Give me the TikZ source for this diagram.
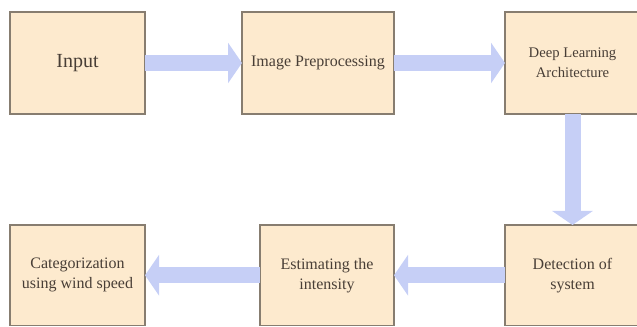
\documentclass[tikz,border=0pt]{standalone}
\usepackage{fontspec}
\setmainfont{Liberation Serif}
\usetikzlibrary{arrows.meta}

\definecolor{boxfill}{RGB}{253,234,206}
\definecolor{boxline}{RGB}{135,125,112}
\definecolor{txt}{RGB}{72,62,54}
\definecolor{flow}{RGB}{198,207,246}

\begin{document}
\begin{tikzpicture}[x=0.75pt,y=0.75pt,
    block/.style={draw=boxline,line width=1pt,fill=boxfill,text=txt,
      inner sep=0pt,outer sep=0pt,align=center,font=\fontsize{12}{15}\selectfont,
      minimum height=76.5pt},
    flowarrow/.style={draw=flow,line width=12pt,
      -{Triangle[width=30pt,length=10.5pt]}}]
      \useasboundingbox (0,0) rectangle (637,327);
      % top row
      \node[block,minimum width=101.25pt,font=\fontsize{15}{18}\selectfont] (input) at (77.5,264) {Input};
      \node[block,minimum width=114pt] (prep) at (318,264) {Image Preprocessing};
      \node[block,minimum width=101.25pt,font=\fontsize{11}{15}\selectfont] (deep) at (572.5,264) {Deep Learning\\Architecture};
      % bottom row
      \node[block,minimum width=101.25pt,minimum height=75.4pt] (cat) at (77.5,51.75) {Categorization\\using wind speed};
      \node[block,minimum width=100.5pt,minimum height=75.4pt] (est) at (327,51.75) {Estimating the\\intensity};
      \node[block,minimum width=101.25pt,minimum height=75.4pt] (det) at (572.5,51.75) {Detection of\\system};
      % arrows
      \draw[flowarrow] (input) -- (prep);
      \draw[flowarrow] (prep) -- (deep);
      \draw[flowarrow] (deep) -- (det);
      \draw[flowarrow] (det) -- (est);
      \draw[flowarrow] (est) -- (cat);
    \end{tikzpicture}
\end{document}
